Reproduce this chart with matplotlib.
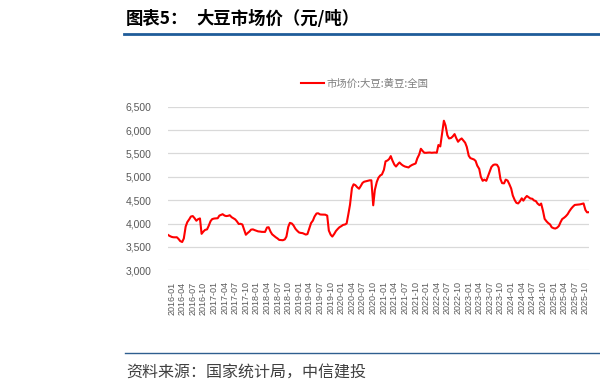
import matplotlib
matplotlib.use('Agg')
import matplotlib.pyplot as plt
import matplotlib.dates as mdates
from matplotlib.lines import Line2D
from matplotlib.ticker import FuncFormatter
import pandas as pd

plt.rcParams['font.family'] = ['Noto Sans CJK SC', 'DejaVu Sans']

# 市场价:大豆:黄豆:全国 (元/吨)，半月数据，2015-12 起
price = [
    3757, 3735, 3715, 3707, 3705, 3707, 3670, 3625, 3605, 3680, 3935, 4030,
    4092, 4150, 4160, 4120, 4060, 4092, 4110, 3780, 3830, 3864, 3875, 3950,
    4050, 4095, 4107, 4110, 4114, 4170, 4185, 4200, 4170, 4160, 4165, 4178,
    4135, 4115, 4090, 4050, 3990, 3995, 3980, 3878, 3760, 3795, 3830, 3870,
    3875, 3860, 3845, 3832, 3828, 3822, 3821, 3821, 3915, 3921, 3828, 3770,
    3735, 3707, 3680, 3650, 3645, 3643, 3660, 3720, 3930, 4015, 4000, 3960,
    3890, 3850, 3810, 3800, 3795, 3780, 3764, 3775, 3900, 4010, 4064, 4150,
    4215, 4220, 4195, 4192, 4192, 4190, 4170, 3850, 3760, 3721, 3780, 3840,
    3885, 3920, 3945, 3970, 3980, 4000, 4200, 4400, 4760, 4840, 4820, 4780,
    4745, 4800, 4870, 4895, 4905, 4915, 4925, 4925, 4390, 4720, 4893, 4980,
    5030, 5050, 5150, 5330, 5350, 5380, 5443, 5350, 5260, 5220, 5270, 5307,
    5265, 5240, 5220, 5210, 5200, 5230, 5255, 5270, 5286, 5393, 5480, 5600,
    5550, 5514, 5514, 5518, 5520, 5514, 5516, 5520, 5515, 5680, 5650, 5900,
    6200, 6100, 5890, 5821, 5830, 5860, 5914, 5830, 5750, 5790, 5821, 5780,
    5730, 5640, 5450, 5400, 5385, 5371, 5340, 5240, 5170, 5000, 4914, 4940,
    4914, 5010, 5120, 5210, 5255, 5264, 5258, 5200, 4950, 4865, 4860, 4940,
    4920, 4850, 4750, 4600, 4500, 4443, 4430, 4470, 4540, 4490, 4550, 4590,
    4560, 4536, 4530, 4495, 4480, 4428, 4393, 4428, 4270, 4100, 4045, 4010,
    3980, 3920, 3900, 3893, 3914, 3950, 4030, 4095, 4125, 4155, 4200, 4260,
    4320, 4360, 4398, 4402, 4407, 4410, 4420, 4430, 4290, 4240, 4243,
]
dates = pd.date_range('2015-12-01', periods=len(price), freq='SMS')
tick_dates = pd.date_range('2016-01-01', '2025-10-01', freq='QS')
y_ticks = list(range(3000, 7000, 500))

title_no = '图表5：'
title = '大豆市场价（元/吨）'
series_name = '市场价:大豆:黄豆:全国'
source = '资料来源：国家统计局，中信建投'

fig = plt.figure(figsize=(6, 3.92), dpi=100)
ax = fig.add_axes([0.28, 0.3105, 0.7017, 0.4173])

ax.plot(dates, price, color='#ff0000', lw=1.5, label=series_name)

ax.set_xlim(dates[0], dates[-1])
ax.set_ylim(3000, 6500)
ax.set_yticks(y_ticks)
ax.yaxis.set_major_formatter(FuncFormatter(lambda v, p: f'{int(v):,}'))
ax.set_xticks(tick_dates)
ax.xaxis.set_major_formatter(mdates.DateFormatter('%Y-%m'))
for lab in ax.get_xticklabels():
    lab.set_rotation(90)
    lab.set_family(['Liberation Sans', 'DejaVu Sans'])
    lab.set_fontsize(6.5)
    lab.set_color('#595959')
for lab in ax.get_yticklabels():
    lab.set_family(['Liberation Sans', 'DejaVu Sans'])
    lab.set_fontsize(7.5)
    lab.set_color('#595959')
ax.tick_params(axis='both', length=0)
ax.tick_params(axis='y', pad=12)
ax.tick_params(axis='x', pad=8)
ax.grid(axis='y', color='#d9d9d9', lw=0.9)
ax.set_axisbelow(True)
for s in ax.spines.values():
    s.set_visible(False)

fig.legend(loc='center', bbox_to_anchor=(0.608, 0.786), frameon=False,
           fontsize=7.5, labelcolor='#7f7f7f', handlelength=2.2, handletextpad=0.3)

# 标题与底部来源
fig.text(0.21, 0.951, title_no, fontsize=12.5, fontweight='bold', va='center', ha='left')
fig.text(0.328, 0.951, title, fontsize=12.5, fontweight='bold', va='center', ha='left')
fig.add_artist(Line2D([0.207, 1.0], [0.913, 0.913], color='#1f5c99', lw=2.0))
fig.add_artist(Line2D([0.208, 1.0], [0.099, 0.099], color='#2f5f8f', lw=1.0))
fig.text(0.21, 0.048, source, fontsize=11.5, color='#404040', va='center', ha='left')

fig.savefig('out.png', dpi=100)
